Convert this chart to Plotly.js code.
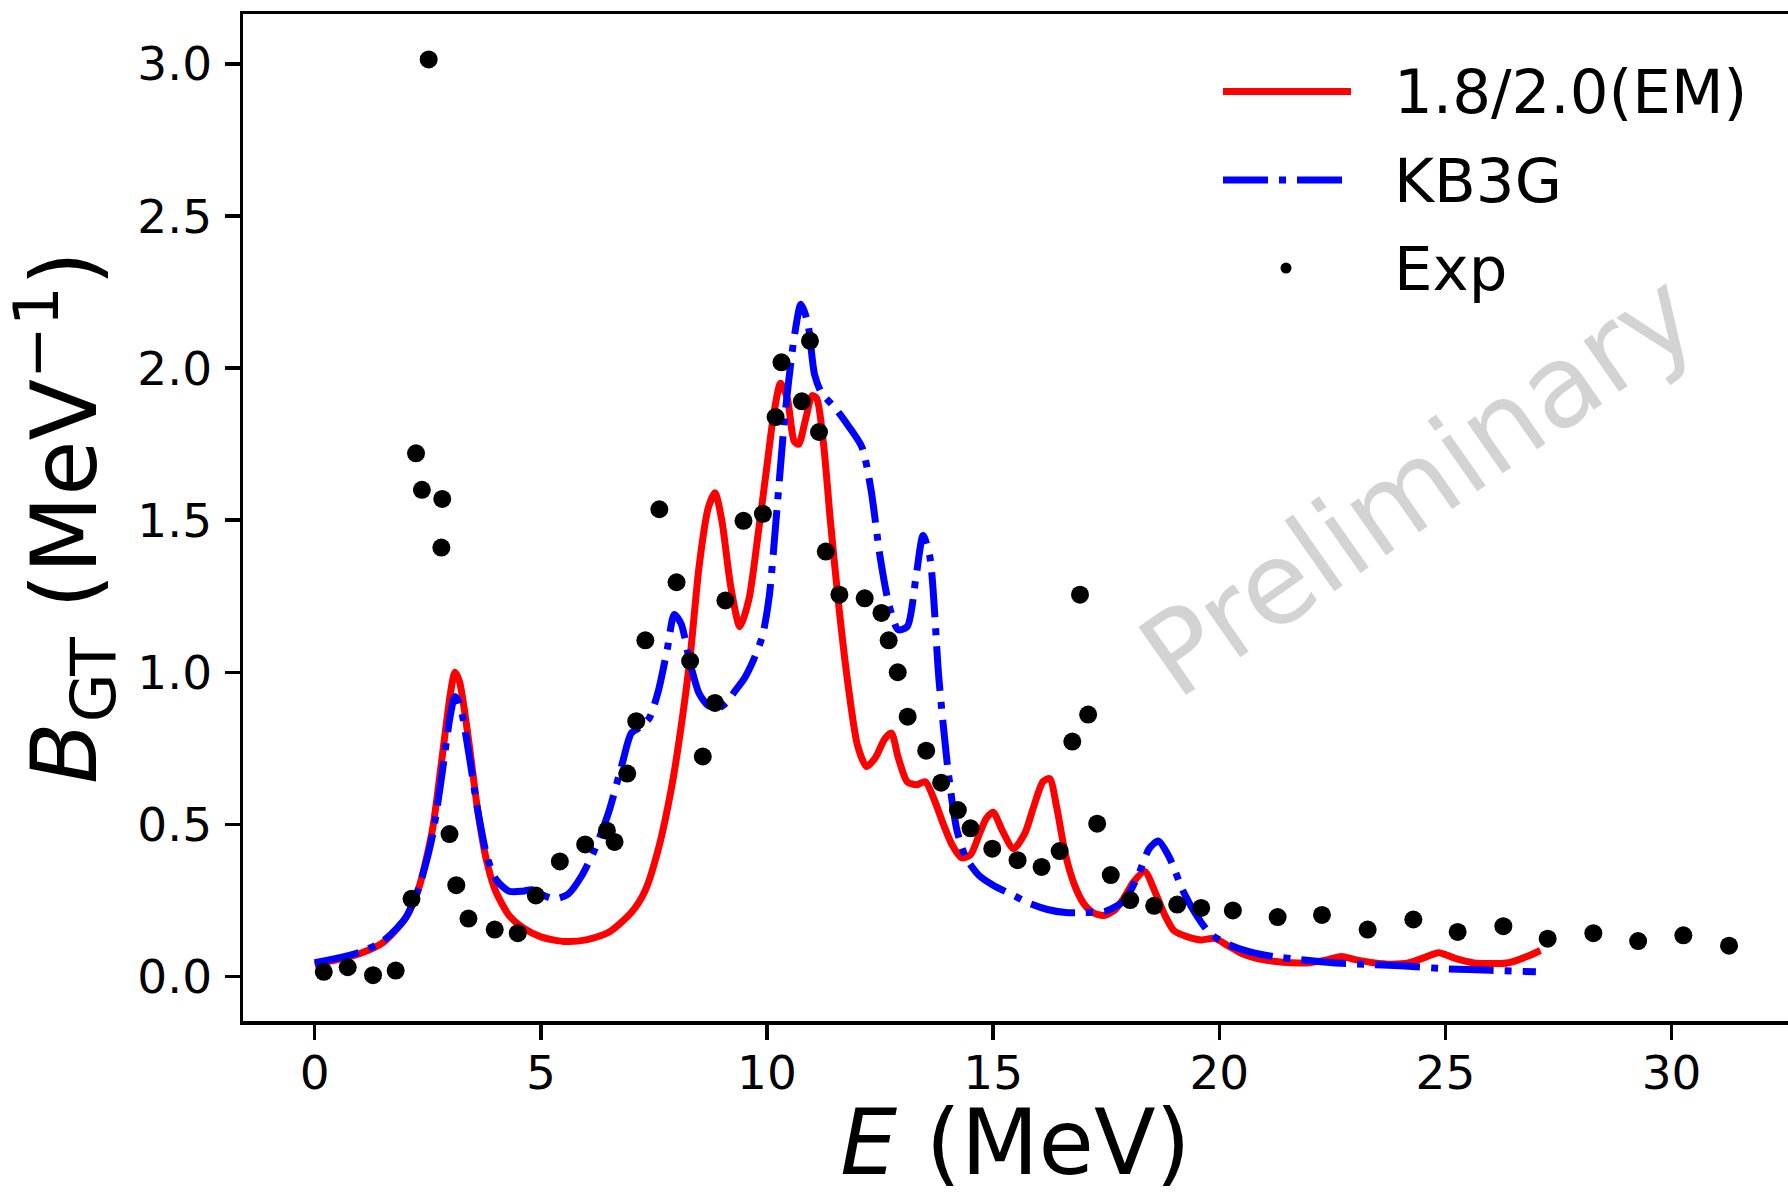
<!DOCTYPE html>
<html>
<head>
<meta charset="utf-8">
<script src="https://cdn.plot.ly/plotly-3.0.1.min.js"></script>
<style>html,body{margin:0;padding:0;background:#fff;}#chart{width:1788px;height:1195px;}</style>
</head>
<body>
<div id="chart"></div>
<script>
// ---- Data ----
const seriesNames = ["1.8/2.0(EM)", "KB3G", "Exp"];

const emE = [0,0.5,1,1.5,2,2.3,2.6,2.8,3.0,3.1,3.2,3.4,3.6,3.8,4.0,4.3,4.6,5.0,5.5,6.0,6.5,7.0,7.3,7.6,7.9,8.1,8.3,8.5,8.7,8.85,9.0,9.2,9.4,9.6,9.8,10.0,10.15,10.3,10.45,10.6,10.7,10.85,11.0,11.1,11.25,11.4,11.6,11.8,12.0,12.2,12.4,12.6,12.75,12.9,13.1,13.3,13.5,13.7,13.9,14.1,14.3,14.5,14.7,14.85,15.0,15.2,15.45,15.7,15.9,16.1,16.25,16.4,16.6,16.8,17.0,17.2,17.45,17.7,17.9,18.1,18.35,18.6,18.8,19.0,19.3,19.6,19.9,20.2,20.5,20.8,21.2,21.6,22.0,22.4,22.7,23.0,23.4,23.8,24.2,24.5,24.85,25.2,25.6,26.0,26.4,26.8,27.1];
const emB = [0.04,0.055,0.075,0.11,0.19,0.29,0.48,0.70,0.93,1.0,0.97,0.78,0.55,0.38,0.28,0.2,0.16,0.13,0.115,0.12,0.145,0.21,0.28,0.42,0.63,0.82,1.05,1.35,1.54,1.59,1.5,1.28,1.15,1.24,1.45,1.68,1.85,1.95,1.9,1.76,1.75,1.83,1.91,1.9,1.75,1.5,1.2,0.95,0.76,0.69,0.72,0.78,0.8,0.72,0.64,0.63,0.64,0.58,0.5,0.43,0.39,0.4,0.47,0.52,0.54,0.48,0.42,0.47,0.56,0.64,0.65,0.56,0.4,0.3,0.24,0.21,0.2,0.22,0.26,0.31,0.345,0.27,0.2,0.15,0.13,0.12,0.125,0.1,0.075,0.06,0.05,0.045,0.045,0.055,0.065,0.055,0.045,0.04,0.045,0.06,0.078,0.06,0.045,0.042,0.045,0.065,0.085];

const kbE = [0,0.5,1,1.5,2,2.3,2.6,2.8,3.0,3.1,3.2,3.4,3.6,3.8,4.0,4.3,4.6,4.8,5.0,5.3,5.6,5.9,6.2,6.5,6.8,7.0,7.2,7.4,7.6,7.8,7.95,8.1,8.3,8.5,8.7,8.9,9.1,9.3,9.5,9.7,9.9,10.05,10.2,10.4,10.6,10.75,10.9,11.05,11.2,11.5,11.8,12.1,12.3,12.5,12.7,12.9,13.1,13.3,13.45,13.6,13.8,14.0,14.2,14.4,14.7,15.0,15.4,15.8,16.2,16.6,17.0,17.5,17.9,18.2,18.45,18.65,18.9,19.2,19.5,19.8,20.2,20.7,21.2,21.8,22.5,23.2,24,25,26,27];
const kbB = [0.045,0.06,0.08,0.115,0.19,0.29,0.46,0.65,0.86,0.92,0.9,0.74,0.55,0.4,0.32,0.28,0.28,0.285,0.27,0.255,0.27,0.33,0.42,0.54,0.7,0.8,0.82,0.85,0.94,1.08,1.19,1.16,1.03,0.93,0.89,0.88,0.9,0.94,0.98,1.04,1.12,1.25,1.5,1.85,2.1,2.21,2.15,1.98,1.92,1.87,1.81,1.74,1.6,1.38,1.22,1.14,1.15,1.32,1.45,1.38,0.98,0.68,0.48,0.39,0.33,0.3,0.27,0.24,0.22,0.21,0.21,0.215,0.25,0.33,0.42,0.445,0.39,0.28,0.2,0.14,0.105,0.08,0.065,0.055,0.045,0.04,0.035,0.025,0.02,0.015];

const expE = [0.20,0.73,1.29,1.79,2.14,2.52,2.24,2.37,2.82,2.80,2.98,3.13,3.40,3.98,4.49,4.89,5.42,5.98,6.46,6.63,6.91,7.11,7.31,7.62,8.00,8.30,8.58,8.85,9.08,9.48,9.91,10.19,10.32,10.77,10.95,11.15,11.30,11.60,12.16,12.53,12.69,12.89,13.11,13.52,13.85,14.22,14.50,14.98,15.54,16.07,16.47,16.75,16.92,17.10,17.30,17.60,18.03,18.56,19.07,19.60,20.30,21.29,22.27,23.28,24.29,25.27,26.28,27.26,28.27,29.26,30.26,31.27];
const expB = [0.015,0.03,0.004,0.019,0.255,3.015,1.72,1.60,1.57,1.41,0.468,0.30,0.19,0.154,0.142,0.266,0.378,0.434,0.479,0.442,0.667,0.839,1.105,1.536,1.296,1.037,0.723,0.899,1.236,1.498,1.521,1.839,2.019,1.891,2.09,1.79,1.397,1.255,1.243,1.195,1.105,1.0,0.854,0.742,0.637,0.547,0.487,0.42,0.382,0.36,0.412,0.772,1.255,0.861,0.502,0.333,0.251,0.232,0.236,0.225,0.217,0.195,0.202,0.154,0.187,0.146,0.165,0.124,0.142,0.116,0.135,0.101];

const xTickVals = [0,5,10,15,20,25,30];
const yTickVals = [0.0,0.5,1.0,1.5,2.0,2.5,3.0];
const yTickText = ["0.0","0.5","1.0","1.5","2.0","2.5","3.0"];

// ---- Styling ----
const FONT = "DejaVu Sans, Liberation Sans, sans-serif";
const traces = [
  {x: emE, y: emB, name: seriesNames[0], type: "scatter", mode: "lines",
   line: {color: "#ff0000", width: 7, shape: "spline", smoothing: 0.7}},
  {x: kbE, y: kbB, name: seriesNames[1], type: "scatter", mode: "lines",
   line: {color: "#0000ff", width: 7, dash: "45px,11px,7px,11px", shape: "spline", smoothing: 0.7}},
  {x: expE, y: expB, name: seriesNames[2], type: "scatter", mode: "markers",
   marker: {color: "#000000", size: 18, symbol: "circle"}}
];

const L = 243, R = 1788, T = 14, B = 1020.6, W = 1788, H = 1195;
const px = v => (v - L) / (R - L);
const py = v => (B - v) / (B - T);

const legendRows = [
  {y: 91.5, kind: "line", color: "#ff0000", dash: "solid"},
  {y: 180, kind: "line", color: "#0000ff", dash: "45px,11px,7px,11px"},
  {y: 268, kind: "dot", color: "#000000"}
];
const shapes = [];
const annotations = [];
legendRows.forEach((r, i) => {
  if (r.kind === "line") {
    shapes.push({type: "line", xref: "paper", yref: "paper", x0: px(1223), x1: px(1351), y0: py(r.y), y1: py(r.y),
      line: {color: r.color, width: 7, dash: r.dash}});
  } else {
    shapes.push({type: "circle", xref: "paper", yref: "paper", xsizemode: "pixel", ysizemode: "pixel",
      xanchor: px(1286), yanchor: py(r.y), x0: -5.5, x1: 5.5, y0: -5.5, y1: 5.5,
      fillcolor: r.color, line: {width: 0}});
  }
  annotations.push({xref: "paper", yref: "paper", x: px(1392), y: py(r.y), xanchor: "left", yanchor: "middle",
    text: seriesNames[i], showarrow: false, font: {family: FONT, size: 61, color: "#000"}});
});
annotations.push({xref: "paper", yref: "paper", x: px(1418), y: py(484), xanchor: "center", yanchor: "middle",
  text: "Preliminary", textangle: -35, showarrow: false, font: {family: FONT, size: 114, color: "#d3d3d3"}});

const layout = {
  width: W, height: H,
  margin: {l: L, r: W - R, t: T, b: H - B, pad: 0},
  paper_bgcolor: "#fff", plot_bgcolor: "#fff",
  showlegend: false,
  font: {family: FONT, color: "#000"},
  xaxis: {
    range: [(L - 314.7) / 45.23, (R - 314.7) / 45.23],
    tickvals: xTickVals, ticktext: xTickVals.map(String),
    ticks: "outside", ticklen: 15, tickwidth: 3.5, tickcolor: "#000",
    showline: true, linecolor: "#000", linewidth: 3.5, mirror: true,
    showgrid: false, zeroline: false,
    tickfont: {family: FONT, size: 47, color: "#000"},
    ticklabelstandoff: -7,
    title: {text: "<i>E</i> (MeV)", font: {family: FONT, size: 90, color: "#000"}, standoff: 22},
    automargin: false
  },
  yaxis: {
    range: [(976 - B) / 304, 3 + (64 - T) / 304],
    tickvals: yTickVals, ticktext: yTickText,
    ticks: "outside", ticklen: 15, tickwidth: 3.5, tickcolor: "#000",
    showline: true, linecolor: "#000", linewidth: 3.5, mirror: false,
    showgrid: false, zeroline: false,
    tickfont: {family: FONT, size: 47, color: "#000"},
    ticklabelstandoff: 3,
    title: {text: "<i>B</i><sub>GT</sub> (MeV<sup>−1</sup>)", font: {family: FONT, size: 90, color: "#000"}, standoff: 18},
    automargin: false
  },
  shapes: shapes,
  annotations: annotations
};

Plotly.newPlot("chart", traces, layout, {staticPlot: true, displayModeBar: false});
</script>
</body>
</html>
